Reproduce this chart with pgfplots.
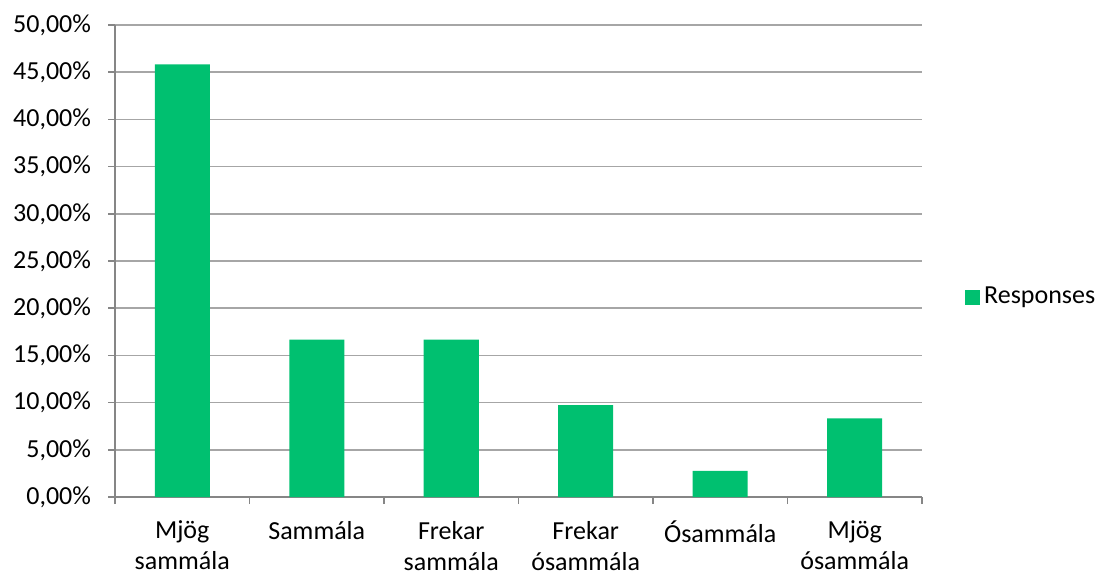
\documentclass[border=0pt]{standalone}
\usepackage{fontspec}
\setmainfont{Carlito}
\usepackage{pgfplots}
\pgfplotsset{compat=1.18}
\definecolor{barGreen}{RGB}{0,192,112}
\definecolor{gridGray}{RGB}{166,166,166}
\definecolor{axisGray}{RGB}{134,134,134}

\begin{document}
\begin{tikzpicture}
\useasboundingbox (0pt,0pt) rectangle (551pt,291.5pt);
\begin{axis}[
  at={(57.5pt,43pt)}, anchor=south west,
  scale only axis,
  width=403.5pt, height=236pt,
  ybar, bar width=27.5pt,
  xmin=-0.5, xmax=5.5,
  ymin=0, ymax=50,
  xtick={0,...,5},
  xticklabels={{Mjög\\sammála},Sammála,{Frekar\\sammála},{Frekar\\ósammála},Ósammála,{Mjög\\ósammála}},
  minor xtick={-0.5,0.5,...,5.5},
  major x tick style={draw=none},
  minor x tick style={draw=axisGray, line width=0.8pt},
  ytick={0,5,...,50},
  yticklabel={\pgfmathprintnumber{\tick}\%},
  /pgf/number format/.cd, fixed, fixed zerofill, precision=2, use comma, 1000 sep={}, assume math mode=true,
  /pgfplots/.cd,
  tick align=outside,
  major tick length=3.5pt, minor tick length=3.5pt,
  y tick style={draw=axisGray, line width=0.8pt},
  axis x line*=bottom, axis y line*=left,
  axis line style={draw=axisGray, line width=0.8pt, -},
  ymajorgrids, grid style={draw=gridGray, line width=0.8pt},
  tick label style={font=\fontsize{13}{15.5}\selectfont, text=black},
  x tick label style={align=center, yshift=-5pt},
  y tick label style={xshift=-5pt},
  legend style={at={(1.053,0.4237)}, anchor=west, draw=none, fill=none,
    font=\fontsize{13}{15}\selectfont, inner sep=0pt,
    legend cell align=left},
  legend image code/.code={\fill[barGreen] (0pt,-3.75pt) rectangle (7.5pt,3.75pt);},
]
\addplot[fill=barGreen, draw=none] coordinates {
  (0,45.83)
  (1,16.67)
  (2,16.67)
  (3,9.72)
  (4,2.78)
  (5,8.33)
};
\addlegendentry{Responses}
\end{axis}
\end{tikzpicture}
\end{document}
